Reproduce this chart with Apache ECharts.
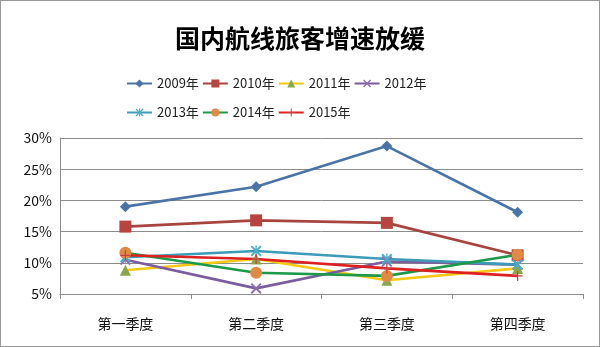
<!DOCTYPE html>
<html>
<head>
<meta charset="utf-8">
<script src="https://cdn.jsdelivr.net/npm/echarts@6/dist/echarts.min.js"></script>
<style>
  html, body { margin: 0; padding: 0; background: #fff; }
  #chart { width: 598px; height: 345px; border: 1px solid #9a9a9a; }
</style>
</head>
<body>
<div id="chart"></div>
<script>
// Quarterly growth rate of domestic passenger traffic (%)
const quarters = ['第一季度', '第二季度', '第三季度', '第四季度'];
const years = ['2009年', '2010年', '2011年', '2012年', '2013年', '2014年', '2015年'];
const y2009 = [19.0, 22.2, 28.7, 18.1];
const y2010 = [15.8, 16.8, 16.4, 11.2];
const y2011 = [8.8, 10.6, 7.2, 9.1];
const y2012 = [10.5, 5.9, 10.2, 9.7];
const y2013 = [10.9, 11.9, 10.6, 9.7];
const y2014 = [11.6, 8.4, 7.9, 11.3];
const y2015 = [11.2, 10.6, 9.1, 7.9];
const yTicks = { min: 5, max: 30, step: 5 };

const FONT = '"Noto Sans CJK SC", "Microsoft YaHei", sans-serif';

// Thin stroke-like marker shapes drawn as filled paths
const xMark = 'path://M0,1.2 L1.2,0 L10,8.8 L8.8,10 Z M8.8,0 L10,1.2 L1.2,10 L0,8.8 Z';
const plusMark = 'path://M4.4,0 L5.6,0 L5.6,10 L4.4,10 Z M0,4.4 L10,4.4 L10,5.6 L0,5.6 Z';
const starMark = 'path://M4.4,0 L5.6,0 L5.6,10 L4.4,10 Z M0,1.2 L1.2,0 L10,8.8 L8.8,10 Z M8.8,0 L10,1.2 L1.2,10 L0,8.8 Z';

function line(name, data, lineColor, markColor, symbol, size) {
  return {
    name, type: 'line', data,
    symbol, symbolSize: size,
    lineStyle: { color: lineColor, width: 2.6 },
    itemStyle: { color: markColor, borderWidth: 0 },
    emphasis: { disabled: true }
  };
}

// Legend laid out in two rows: four entries, then three
function legendRow(names, top) {
  return {
    data: names,
    left: 120, top,
    itemWidth: 25, itemHeight: 10, itemGap: 3,
    textStyle: { fontSize: 13, color: '#222', fontFamily: FONT }
  };
}

const chart = echarts.init(document.getElementById('chart'));
chart.setOption({
  animation: false,
  textStyle: { fontFamily: FONT },
  title: {
    text: '国内航线旅客增速放缓',
    left: 'center', top: 20,
    textStyle: { fontSize: 25, fontWeight: 'bold', color: '#000', fontFamily: FONT }
  },
  legend: [legendRow(years.slice(0, 4), 71), legendRow(years.slice(4), 100)],
  grid: { left: 59, right: 16, top: 137, bottom: 52 },
  xAxis: {
    type: 'category', data: quarters, boundaryGap: true,
    axisLine: { lineStyle: { color: '#8c8c8c' } },
    axisTick: { show: true, length: 5, lineStyle: { color: '#8c8c8c' } },
    axisLabel: { fontSize: 14, color: '#111', margin: 23 }
  },
  yAxis: {
    type: 'value', min: yTicks.min, max: yTicks.max, interval: yTicks.step,
    axisLine: { show: true, lineStyle: { color: '#8c8c8c' } },
    axisTick: { show: false },
    splitLine: { lineStyle: { color: '#8c8c8c' } },
    axisLabel: { formatter: '{value}%', fontSize: 14, color: '#111', margin: 8 }
  },
  series: [
    line('2009年', y2009, '#4a74a8', '#4a74a8', 'diamond', 11),
    line('2010年', y2010, '#a8443f', '#b8443f', 'rect', 12),
    line('2011年', y2011, '#f5c816', '#8aa84a', 'triangle', 11),
    line('2012年', y2012, '#7b5c9c', '#8a6fb0', xMark, 11),
    line('2013年', y2013, '#3c9cb8', '#4bacc6', starMark, 11),
    line('2014年', y2014, '#1c9a4a', '#e08a44', 'circle', 12),
    line('2015年', y2015, '#dd2020', '#c84040', plusMark, 10)
  ]
});
</script>
</body>
</html>
